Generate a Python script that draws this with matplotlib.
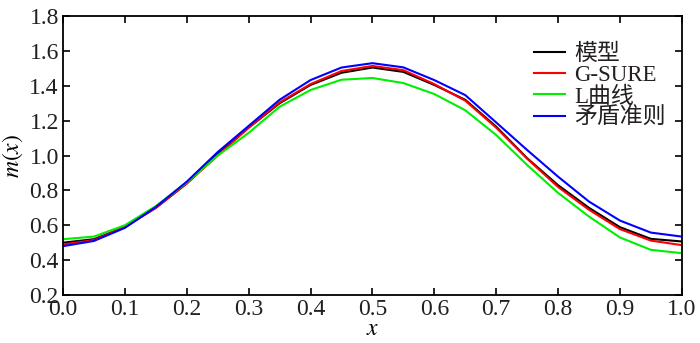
import matplotlib
matplotlib.use("Agg")
import matplotlib.pyplot as plt
import numpy as np

x = [0.0, 0.05, 0.1, 0.15, 0.2, 0.25, 0.3, 0.35, 0.4, 0.45, 0.5,
     0.55, 0.6, 0.65, 0.7, 0.75, 0.8, 0.85, 0.9, 0.95, 1.0]
model = [0.50, 0.52, 0.59, 0.70, 0.84, 1.01, 1.16, 1.30, 1.405, 1.475, 1.505,
         1.48, 1.405, 1.32, 1.166, 0.985, 0.83, 0.70, 0.589, 0.522, 0.507]
gsure = [0.49, 0.515, 0.59, 0.70, 0.84, 1.00, 1.16, 1.305, 1.41, 1.485, 1.514,
         1.49, 1.41, 1.315, 1.16, 0.982, 0.82, 0.689, 0.578, 0.512, 0.486]
lcurve = [0.52, 0.535, 0.60, 0.71, 0.845, 1.00, 1.13, 1.28, 1.376, 1.435, 1.445,
          1.416, 1.353, 1.26, 1.118, 0.946, 0.786, 0.65, 0.53, 0.459, 0.44]
maodun = [0.48, 0.51, 0.585, 0.705, 0.85, 1.02, 1.17, 1.32, 1.433, 1.505, 1.53,
          1.506, 1.433, 1.347, 1.19, 1.032, 0.879, 0.736, 0.627, 0.558, 0.535]
labels = ["模型", "G-SURE", "L曲线", "矛盾准则"]
colors = ["#000000", "#ff0000", "#00ee00", "#0000ff"]
xticks = [0.0, 0.1, 0.2, 0.3, 0.4, 0.5, 0.6, 0.7, 0.8, 0.9, 1.0]
yticks = [0.2, 0.4, 0.6, 0.8, 1.0, 1.2, 1.4, 1.6, 1.8]

plt.rcParams['font.family'] = ['Liberation Serif', 'Noto Sans CJK SC']
plt.rcParams['mathtext.fontset'] = 'stix'

FS = 17
fig = plt.figure(figsize=(7, 3.43), dpi=100)
ax = fig.add_axes([0.09, 0.14, 0.884, 0.813])

for ys, lab, c in zip([model, gsure, lcurve, maodun], labels, colors):
    ax.plot(x, ys, color=c, lw=1.5, label=lab)

ax.set_xlim(0, 1)
ax.set_ylim(0.2, 1.8)
ax.set_xticks(xticks)
ax.set_yticks(yticks)
ax.set_xticklabels([f"{v:.1f}" for v in xticks])
ax.set_yticklabels([f"{v:.1f}" for v in yticks])
ax.tick_params(direction='in', length=5, width=1.2, top=True, right=True,
               labelsize=FS, pad=3, color='black', labelcolor='#231f20')
for s in ax.spines.values():
    s.set_linewidth(1.3)

ax.set_xlabel(r"$x$", fontsize=FS, labelpad=-1)
ax.set_ylabel(r"$m(x)$", fontsize=FS, labelpad=3)

leg = ax.legend(loc='upper left', bbox_to_anchor=(0.761, 0.90), frameon=False,
                fontsize=16.5, handlelength=1.35, handletextpad=0.4,
                labelspacing=0.0, borderaxespad=0, borderpad=0)
for t in leg.get_texts():
    t.set_color('#231f20')
fig.savefig("out.png", dpi=100)
